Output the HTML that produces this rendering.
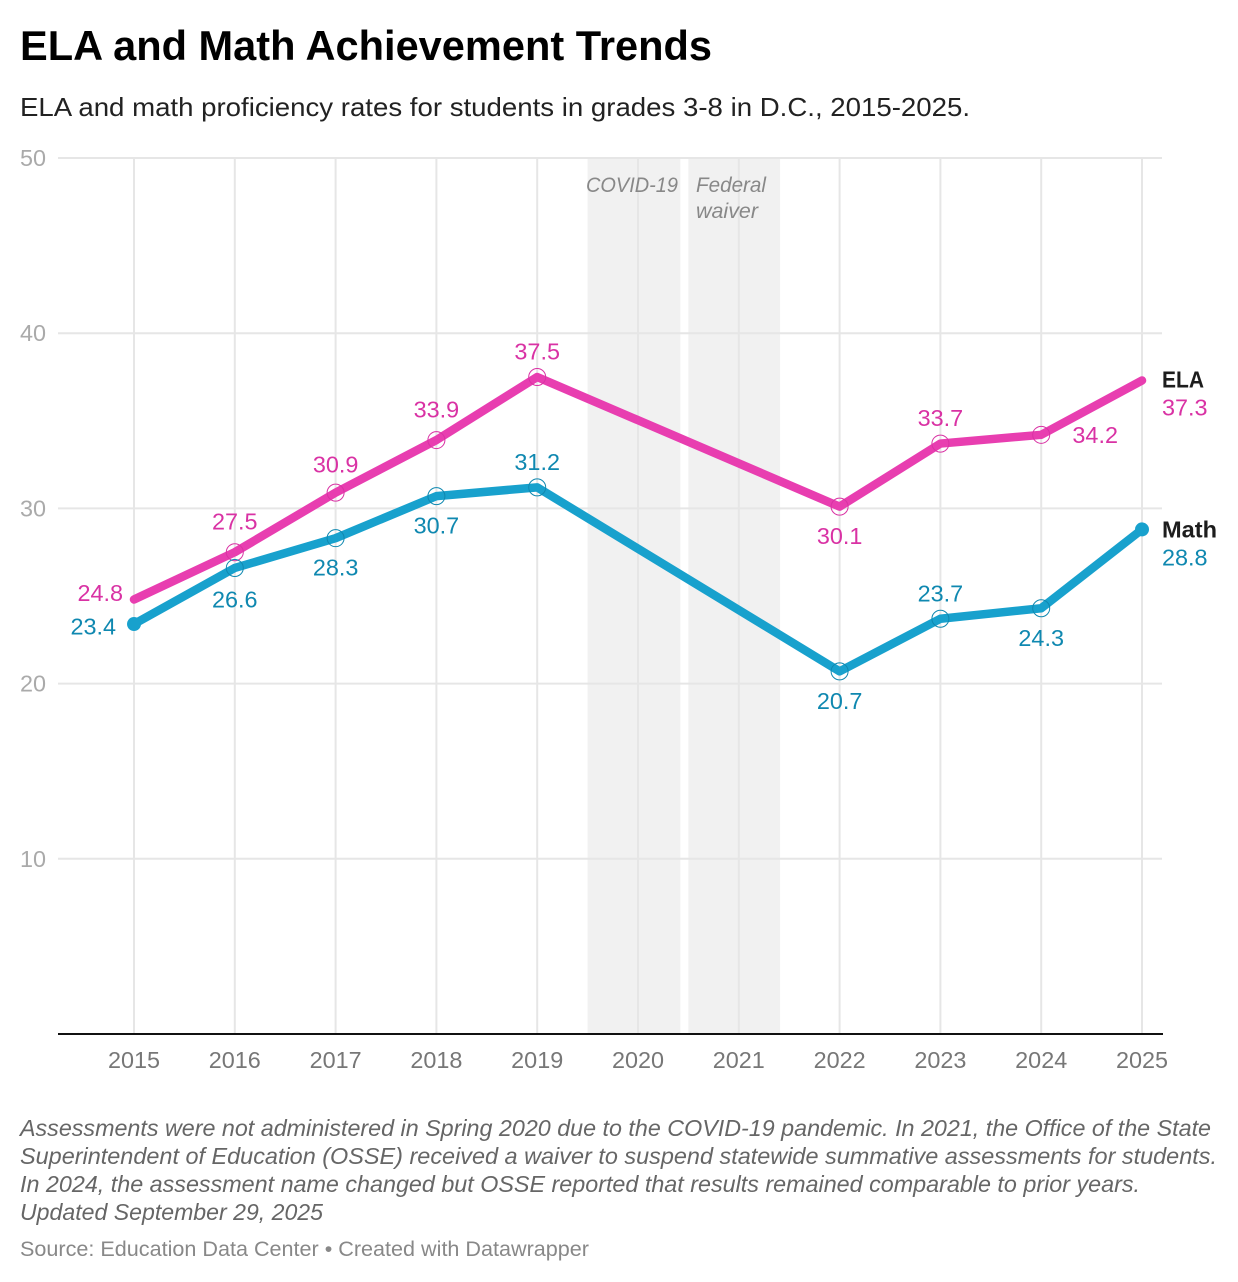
<!DOCTYPE html>
<html lang="en">
<head>
<meta charset="utf-8">
<title>ELA and Math Achievement Trends</title>
<style>
html,body{margin:0;padding:0;background:#fff;width:1238px;height:1282px;overflow:hidden}
svg{display:block}
text{font-family:"Liberation Sans",sans-serif}
</style>
</head>
<body>
<svg id="chart" xmlns="http://www.w3.org/2000/svg" width="1238" height="1282" viewBox="0 0 1238 1282">
  <text x="20" y="60" font-size="42" font-weight="700" fill="#000" textLength="692" lengthAdjust="spacingAndGlyphs">ELA and Math Achievement Trends</text>
  <text x="20" y="116" font-size="26" fill="#222" textLength="950" lengthAdjust="spacingAndGlyphs">ELA and math proficiency rates for students in grades 3-8 in D.C., 2015-2025.</text>
  <g id="bands"></g>
  <g id="grid"></g>
  <g id="axes"></g>
  <g id="series"></g>
  <g id="labels"></g>
  <text x="586" y="192" font-size="21.6" font-style="italic" fill="#888" textLength="92" lengthAdjust="spacingAndGlyphs">COVID-19</text>
  <text x="696" y="192" font-size="21.6" font-style="italic" fill="#888" textLength="70" lengthAdjust="spacingAndGlyphs">Federal</text>
  <text x="696" y="218" font-size="21.6" font-style="italic" fill="#888" textLength="62" lengthAdjust="spacingAndGlyphs">waiver</text>
  <text x="20" y="1136" font-size="23.4" font-style="italic" fill="#666" textLength="1191" lengthAdjust="spacingAndGlyphs">Assessments were not administered in Spring 2020 due to the COVID-19 pandemic. In 2021, the Office of the State</text>
  <text x="20" y="1164" font-size="23.4" font-style="italic" fill="#666" textLength="1197" lengthAdjust="spacingAndGlyphs">Superintendent of Education (OSSE) received a waiver to suspend statewide summative assessments for students.</text>
  <text x="20" y="1192" font-size="23.4" font-style="italic" fill="#666" textLength="1120" lengthAdjust="spacingAndGlyphs">In 2024, the assessment name changed but OSSE reported that results remained comparable to prior years.</text>
  <text x="20" y="1220" font-size="23.4" font-style="italic" fill="#666" textLength="303" lengthAdjust="spacingAndGlyphs">Updated September 29, 2025</text>
  <text x="20" y="1256" font-size="21.6" fill="#888" textLength="569" lengthAdjust="spacingAndGlyphs">Source: Education Data Center • Created with Datawrapper</text>
</svg>
<script>
const years = [2015, 2016, 2017, 2018, 2019, 2020, 2021, 2022, 2023, 2024, 2025];
const yTicks = [10, 20, 30, 40, 50];
const elaValues = [24.8, 27.5, 30.9, 33.9, 37.5, null, null, 30.1, 33.7, 34.2, 37.3];
const mathValues = [23.4, 26.6, 28.3, 30.7, 31.2, null, null, 20.7, 23.7, 24.3, 28.8];
const elaLabelSides = ['start', 'above-far', 'above-mid', 'above-far', 'above', '', '', 'below', 'above', 'beside', 'end'];
const mathLabelSides = ['start', 'below-far', 'below', 'below', 'above', '', '', 'below', 'above', 'below', 'end'];
const bandRanges = [[2019.5, 2020.42], [2020.5, 2021.41]];

const NS = 'http://www.w3.org/2000/svg';
const xOf = function (year) { return 134 + (year - 2015) * 100.8; };
const yOf = function (value) { return 1034 - value * 17.52; };
const make = function (parent, tag, props) {
  const el = document.createElementNS(NS, tag);
  Object.keys(props).forEach(function (k) { el.setAttribute(k, props[k]); });
  document.getElementById(parent).appendChild(el);
  return el;
};
const sideOffset = function (side) {
  if (side === 'above') return -17.5;
  if (side === 'above-mid') return -20;
  if (side === 'above-far') return -22.5;
  if (side === 'below') return 37.5;
  if (side === 'below-far') return 39.5;
  return 0;
};

bandRanges.forEach(function (range) {
  const band = make('bands', 'rect', { x: xOf(range[0]), y: 158, width: xOf(range[1]) - xOf(range[0]), height: 876, fill: '#f1f1f1' });
  
  
});

yTicks.forEach(function (tick) {
  const line = make('grid', 'line', { x1: 58, x2: 1162, y1: yOf(tick), y2: yOf(tick), stroke: '#e6e6e6', 'stroke-width': 2 });
  
  
  const label = make('axes', 'text', { x: 20, y: yOf(tick) + 8, 'font-size': 23.4, fill: '#aaa' });
  label.textContent = tick;
  
  
});

years.forEach(function (year) {
  const line = make('grid', 'line', { x1: xOf(year), x2: xOf(year), y1: 158, y2: 1034, stroke: '#e6e6e6', 'stroke-width': 2 });
  
  
  const label = make('axes', 'text', { x: xOf(year), y: 1068, 'font-size': 23.4, fill: '#777', 'text-anchor': 'middle' });
  label.textContent = year;
  
  
});

const baseline = make('axes', 'line', { x1: 58, x2: 1163, y1: 1034, y2: 1034, stroke: '#111', 'stroke-width': 2 });



const drawSeries = function (values, color, textColor, sides, name, nameWidth, startX, startDy, nameDy, dotEnds) {
  const pts = [];
  values.forEach(function (v, i) {
    if (v !== null) pts.push(xOf(years[i]) + ',' + yOf(v));
  });
  const path = make('series', 'polyline', { points: pts.join(' '), fill: 'none', stroke: color, 'stroke-width': 8.5, 'stroke-linecap': 'round', 'stroke-linejoin': 'round' });
  
  

  values.forEach(function (v, i) {
    if (v === null) return;
    const cx = xOf(years[i]);
    const cy = yOf(v);
    const isEnd = i === 0 || i === values.length - 1;
    if (!isEnd) {
      const ring = make('series', 'circle', { cx: cx, cy: cy, r: 8.5, fill: 'none', stroke: textColor, 'stroke-width': 1 });
      
      
    } else if (dotEnds) {
      const dot = make('series', 'circle', { cx: cx, cy: cy, r: 7, fill: color });
      
      
    }
    const side = sides[i];
    const props = { 'font-size': 23.4, fill: textColor, x: cx, y: cy + sideOffset(side), 'text-anchor': 'middle' };
    if (side === 'beside') { props.x = cx + 54; props.y = cy + 8; }
    if (side === 'start') { props.x = startX; props.y = cy + startDy; props['text-anchor'] = 'end'; }
    if (side === 'end') { props.x = 1162; props.y = cy + nameDy + 28; props['text-anchor'] = 'start'; }
    const label = make('labels', 'text', props);
    label.textContent = v.toFixed(1);
    
    
    if (side === 'end') {
      const title = make('labels', 'text', { x: 1162, y: cy + nameDy, 'font-size': 23.4, 'font-weight': 700, fill: '#1d1d1d', textLength: nameWidth, lengthAdjust: 'spacingAndGlyphs' });
      title.textContent = name;
      
      
    }
  });
};

drawSeries(elaValues, '#e83eb0', '#d932a4', elaLabelSides, 'ELA', 42, 123, 1.5, 7, false);
drawSeries(mathValues, '#18a1cd', '#0f88b0', mathLabelSides, 'Math', 55, 116, 10.5, 8, true);
</script>
</body>
</html>
